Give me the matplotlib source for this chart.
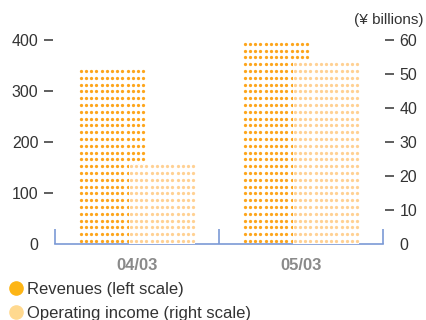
import matplotlib.pyplot as plt
from matplotlib.lines import Line2D
import numpy as np

plt.rcParams['font.family'] = ['Liberation Sans', 'DejaVu Sans']

years = ['04/03', '05/03']
revenues = [343, 396]          # left scale, ¥ billions
op_income = [23.2, 53.6]       # right scale, ¥ billions
left_ticks = [0, 100, 200, 300, 400]
right_ticks = [0, 10, 20, 30, 40, 50, 60]

rev_color = '#FDA51C'
op_color = '#FFD193'
axis_blue = '#7B9AD6'
text_col = '#333333'

W, H = 426, 320
fig = plt.figure(figsize=(W / 100, H / 100), dpi=100)
ax_left, ax_right, ax_bot, ax_top = 53, 385, 244, 40
ax = fig.add_axes([ax_left / W, 1 - ax_bot / H, (ax_right - ax_left) / W, (ax_bot - ax_top) / H])
ax2 = ax.twinx()

px_per_x = 164.0
x0 = -0.5 - 2 / px_per_x
ax.set_xlim(x0, x0 + (ax_right - ax_left) / px_per_x)
ax.set_ylim(0, 400)
ax2.set_ylim(0, 60)

axes_h_px = ax_bot - ax_top
col_pitch = 5.2 / px_per_x
bar_w = 0.4
offset = 0.153


def dot_grid(xc, top, span):
    # rows at a fixed pixel pitch, starting just above the baseline
    row_pitch = 6.8 * span / axes_h_px
    first = 3 * span / axes_h_px
    nrows = int((top - first) // row_pitch) + 1
    ys = first + row_pitch * np.arange(nrows)
    xs = xc + col_pitch * (np.arange(13) - 6)
    gx, gy = np.meshgrid(xs, ys)
    return gx.ravel(), gy.ravel()


for i, v in enumerate(revenues):
    gx, gy = dot_grid(i - offset, v, 400)
    ax.scatter(gx, gy, s=5.5, color=rev_color, linewidths=0, marker='o', zorder=3)

for i, v in enumerate(op_income):
    ax2.bar(i + offset, v, width=bar_w + 0.004, color='white', zorder=2)
    gx, gy = dot_grid(i + offset, v, 60)
    ax2.scatter(gx, gy, s=5.5, color=op_color, linewidths=0, marker='o', zorder=3)

# baseline with category separators
ax.plot([-0.5, 1.5], [0, 0], color=axis_blue, lw=1.2, clip_on=False, zorder=4)
ax.vlines([-0.5, 0.5, 1.5], 0, 30, color=axis_blue, lw=1.2, clip_on=False, zorder=4)

for s in list(ax.spines.values()) + list(ax2.spines.values()):
    s.set_visible(False)

tick_len = 6.5
ax.set_yticks(left_ticks)
ax.tick_params(axis='y', length=tick_len, width=1.1, color=text_col, labelcolor=text_col,
               labelsize=11.5, pad=4)
ax.yaxis.get_major_ticks()[0].tick1line.set_visible(False)
ax2.set_yticks(right_ticks)
ax2.tick_params(axis='y', length=tick_len, width=1.1, color=text_col, labelcolor=text_col,
                labelsize=11.5, pad=4)
ax2.yaxis.get_major_ticks()[0].tick2line.set_visible(False)

ax.set_xticks(range(len(years)))
ax.set_xticklabels(years, fontweight='bold', color='#8A8A8A', fontsize=12)
ax.tick_params(axis='x', length=0, pad=10)

fig.text(423 / W, 1 - 20 / H, '(¥ billions)', ha='right', va='center', fontsize=11, color=text_col)

handles = [Line2D([], [], marker='o', ls='', markersize=9.5, color='#FDB515'),
           Line2D([], [], marker='o', ls='', markersize=9.5, color='#FFD98F')]
fig.legend(handles, ['Revenues (left scale)', 'Operating income (right scale)'],
           loc='upper left', bbox_to_anchor=(8 / W, 1 - 282 / H), frameon=False,
           fontsize=12, handlelength=0.9, handletextpad=0.25, labelspacing=0.55,
           borderpad=0, borderaxespad=0, labelcolor=text_col)

fig.savefig('out.png', dpi=100)
